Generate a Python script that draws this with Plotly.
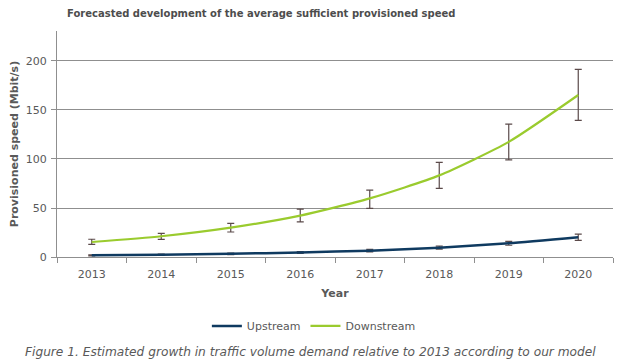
import plotly.graph_objects as go

years = ["2013", "2014", "2015", "2016", "2017", "2018", "2019", "2020"]
upstream = [1.7, 2.4, 3.3, 4.6, 6.5, 9.5, 14.0, 20.1]
upstream_err = [0.5, 0.6, 0.8, 1.0, 1.2, 1.5, 2.0, 3.2]
downstream = [15.3, 21.2, 30.0, 42.2, 59.8, 83.3, 117.5, 165.3]
downstream_err_plus = [2.8, 3.0, 4.4, 6.6, 8.4, 13.3, 18.0, 26.2]
downstream_err_minus = [2.4, 3.2, 4.5, 6.4, 10.1, 13.3, 18.5, 25.8]

title_text = "Forecasted development of the average sufficient provisioned speed"
caption = "Figure 1. Estimated growth in traffic volume demand relative to 2013 according to our model"

grey = "#595959"
grid = "#8f8f8f"
err_col = "#5b4a4a"

fig = go.Figure()
fig.add_trace(go.Scatter(
    x=years, y=upstream, name="Upstream", mode="lines",
    line=dict(color="#0f3a60", width=2.5, shape="spline", smoothing=0.6),
    error_y=dict(type="data", array=upstream_err, color=err_col, thickness=1.2, width=3.5),
))
fig.add_trace(go.Scatter(
    x=years, y=downstream, name="Downstream", mode="lines",
    line=dict(color="#9acb2e", width=2.2, shape="spline", smoothing=0.6),
    error_y=dict(type="data", symmetric=False, array=downstream_err_plus,
                 arrayminus=downstream_err_minus, color=err_col, thickness=1.2, width=3.5),
))

font_family = "DejaVu Sans, Verdana, sans-serif"
fig.update_layout(
    width=620, height=361,
    margin=dict(l=57, r=7, t=31, b=104, autoexpand=False),
    paper_bgcolor="white", plot_bgcolor="white",
    font=dict(family=font_family, size=11, color=grey),
    showlegend=True,
    legend=dict(orientation="h", x=0.462, xanchor="center", y=-0.305, yanchor="middle",
                font=dict(size=11, color=grey), itemwidth=30, traceorder="normal"),
    xaxis=dict(
        type="category", range=[-0.5, 7.5], automargin=False,
        showline=True, linecolor=grid, linewidth=1,
        ticks="outside", tickson="boundaries", ticklen=5, tickcolor=grid,
        ticklabelstandoff=7,
        showgrid=False,
        tickfont=dict(size=11, color=grey),
        title=dict(text="<b>Year</b>", font=dict(size=11, color=grey), standoff=9),
    ),
    yaxis=dict(
        range=[0, 230.6], tickvals=[0, 50, 100, 150, 200], automargin=False,
        showline=True, linecolor=grid, linewidth=1,
        showgrid=True, gridcolor=grid, gridwidth=1,
        ticks="outside", ticklen=5, tickcolor=grid,
        ticklabelstandoff=2,
        zeroline=False,
        tickfont=dict(size=11, color=grey),
        title=dict(text="<b>Provisioned speed (Mbit/s)</b>", font=dict(size=11, color=grey), standoff=4),
    ),
)

fig.add_annotation(
    text="<b>" + title_text + "</b>", xref="paper", yref="paper",
    x=(261 - 57) / 556, y=1 + (31 - 13) / 226, xanchor="center", yanchor="middle",
    showarrow=False, font=dict(size=10, color="#4d4d4d", family=font_family),
)
fig.add_annotation(
    text="<i>" + caption + "</i>", xref="paper", yref="paper",
    x=(310 - 57) / 556, y=-(352 - 257) / 226, xanchor="center", yanchor="middle",
    showarrow=False, font=dict(size=12.2, color=grey, family=font_family),
)

fig.write_html("out.html", config={"displayModeBar": False},
               post_script="document.body.style.margin='0';document.body.style.overflow='hidden';")
